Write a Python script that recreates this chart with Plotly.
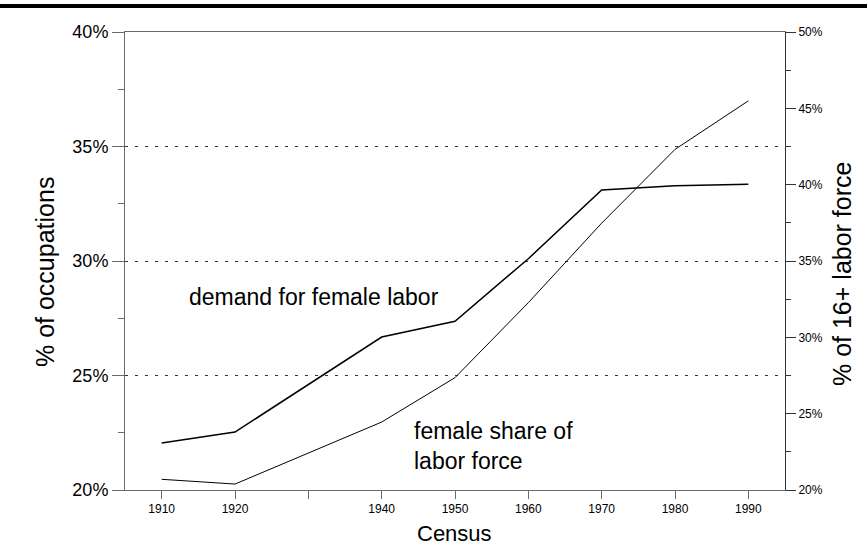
import plotly.graph_objects as go

years = [1910, 1920, 1940, 1950, 1960, 1970, 1980, 1990]
demand_female_labor = [22.05, 22.53, 26.68, 27.37, 30.1, 33.1, 33.29, 33.35]
female_share_labor_force = [20.70, 20.39, 24.45, 27.36, 32.27, 37.48, 42.31, 45.49]

x_tickvals = [1910, 1920, 1930, 1940, 1950, 1960, 1970, 1980, 1990]
x_ticktext = ["1910", "1920", "", "1940", "1950", "1960", "1970", "1980", "1990"]
left_ticks = [20, 25, 30, 35, 40]
left_ticktext = ["20%", "25%", "30%", "35%", "40%"]
right_ticks = [20, 25, 30, 35, 40, 45, 50]
right_ticktext = ["20%", "25%", "30%", "35%", "40%", "45%", "50%"]

FONT = "Liberation Sans, Arial, sans-serif"
AXC = "#6a6a6a"

fig = go.Figure()
fig.add_trace(go.Scatter(x=years, y=demand_female_labor, mode="lines",
                         line=dict(color="black", width=1.5), yaxis="y",
                         name="demand for female labor", showlegend=False))
fig.add_trace(go.Scatter(x=years, y=female_share_labor_force, mode="lines",
                         line=dict(color="black", width=1), yaxis="y2",
                         name="female share of labor force", showlegend=False))

fig.update_layout(
    width=867, height=555,
    margin=dict(l=125, r=82, t=32, b=65),
    paper_bgcolor="white", plot_bgcolor="white",
    font=dict(family=FONT, color="black"),
    xaxis=dict(range=[1905, 1995], tickvals=x_tickvals, ticktext=x_ticktext,
               ticks="outside", ticklen=8, tickcolor=AXC, showline=True,
               linecolor=AXC, linewidth=1, mirror=True, showgrid=False,
               zeroline=False, tickfont=dict(size=12, family=FONT)),
    yaxis=dict(range=[20, 40], tickvals=left_ticks, ticktext=left_ticktext,
               ticks="outside", ticklen=12, tickcolor=AXC, showline=True,
               linecolor=AXC, linewidth=1, zeroline=False,
               showgrid=True, gridcolor="#333333", gridwidth=1, griddash="3px,7px",
               minor=dict(dtick=2.5, ticks="outside", ticklen=6, tickcolor=AXC, showgrid=False),
               tickfont=dict(size=18, family=FONT)),
    yaxis2=dict(range=[20, 50], tickvals=right_ticks, ticktext=right_ticktext,
                overlaying="y", side="right", anchor="x",
                ticks="outside", ticklen=10, tickcolor="#333333", showline=True,
                linecolor="#333333", linewidth=1, zeroline=False, showgrid=False,
                minor=dict(dtick=2.5, ticks="outside", ticklen=5, tickcolor="#333333", showgrid=False),
                tickfont=dict(size=12, family=FONT)),
)

# thick rule at the top of the page
fig.add_shape(type="line", xref="paper", yref="paper",
              x0=-0.2, x1=1.2, y0=1 + (32 - 6) / 458, y1=1 + (32 - 6) / 458,
              line=dict(color="black", width=4))

fig.add_annotation(text="demand for female labor", xref="x", yref="y",
                   x=1913.4, y=28.45, xanchor="left", yanchor="middle",
                   showarrow=False, font=dict(size=23, family=FONT))
fig.add_annotation(text="female share of<br>labor force", xref="x", yref="y",
                   x=1944.2, y=21.9, xanchor="left", yanchor="middle", align="left",
                   showarrow=False, font=dict(size=23, family=FONT))
fig.add_annotation(text="Census", xref="paper", yref="paper",
                   x=(454 - 125) / 660, y=-0.095, xanchor="center", yanchor="middle",
                   showarrow=False, font=dict(size=22, family=FONT))
fig.add_annotation(text="% of occupations", xref="paper", yref="paper",
                   x=(45 - 125) / 660, y=(490 - 272) / 458, xanchor="center", yanchor="middle",
                   textangle=-90, showarrow=False, font=dict(size=25, family=FONT))
fig.add_annotation(text="% of 16+ labor force", xref="paper", yref="paper",
                   x=(842 - 125) / 660, y=(490 - 274) / 458, xanchor="center", yanchor="middle",
                   textangle=-90, showarrow=False, font=dict(size=25, family=FONT))

fig.write_html("out.html", config={"displayModeBar": False},
               post_script="document.body.style.margin='0';")
